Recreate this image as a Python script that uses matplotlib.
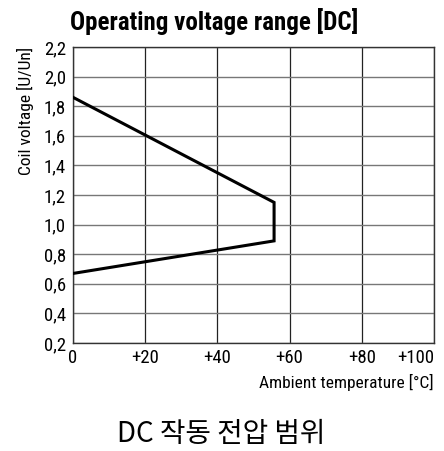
import matplotlib
matplotlib.use("Agg")
import matplotlib.pyplot as plt

temps = [0, 55.7, 55.7, 0]
volts = [1.86, 1.15, 0.89, 0.67]
x_ticks = [0, 20, 40, 60, 80, 100]
x_labels = ["0", "+20", "+40", "+60", "+80", "+100"]
y_ticks = [0.2, 0.4, 0.6, 0.8, 1.0, 1.2, 1.4, 1.6, 1.8, 2.0, 2.2]
y_labels = ["0,2", "0,4", "0,6", "0,8", "1,0", "1,2", "1,4", "1,6", "1,8", "2,0", "2,2"]

cond = "Roboto Condensed"

W, H = 444, 451
fig = plt.figure(figsize=(W/100, H/100), dpi=100)
ax = fig.add_axes([73/W, 1-343/H, (434-73)/W, (343-47)/H])
ax.plot(temps, volts, color="black", lw=2.2, solid_joinstyle="miter", zorder=3)
ax.set_xlim(0, 100)
ax.set_ylim(0.2, 2.2)
ax.set_xticks(x_ticks)
ax.set_xticklabels(x_labels)
ax.set_yticks(y_ticks)
ax.set_yticklabels(y_labels)
ax.xaxis.grid(True, color="#222222", lw=0.9)
ax.yaxis.grid(True, color="#777777", lw=1.0)
ax.tick_params(length=0, labelsize=13.5)
ax.tick_params(axis="x", pad=4)
ax.tick_params(axis="y", pad=5)
for lab in ax.get_xticklabels() + ax.get_yticklabels():
    lab.set_family(cond)
ax.get_xticklabels()[-1].set_horizontalalignment("right")
for s in ax.spines.values():
    s.set_color("#333333")
    s.set_linewidth(1.0)
ax.set_axisbelow(True)

fig.text(214/W, 1-22/H, "Operating voltage range [DC]", ha="center", va="center",
         fontsize=18, fontweight="bold", family=cond)
fig.text(25/W, 1-47/H, "Coil voltage [U/Un]", rotation=90, ha="center", va="top",
         fontsize=12.5, family=cond)
fig.text(434/W, 1-382/H, "Ambient temperature [°C]", ha="right", va="center",
         fontsize=12.5, family=cond)
fig.text(221/W, 1-434/H, "DC 작동 전압 범위", ha="center", va="center",
         fontsize=20, family=["Noto Sans CJK KR", "DejaVu Sans"])

fig.savefig("out.png", dpi=100)
